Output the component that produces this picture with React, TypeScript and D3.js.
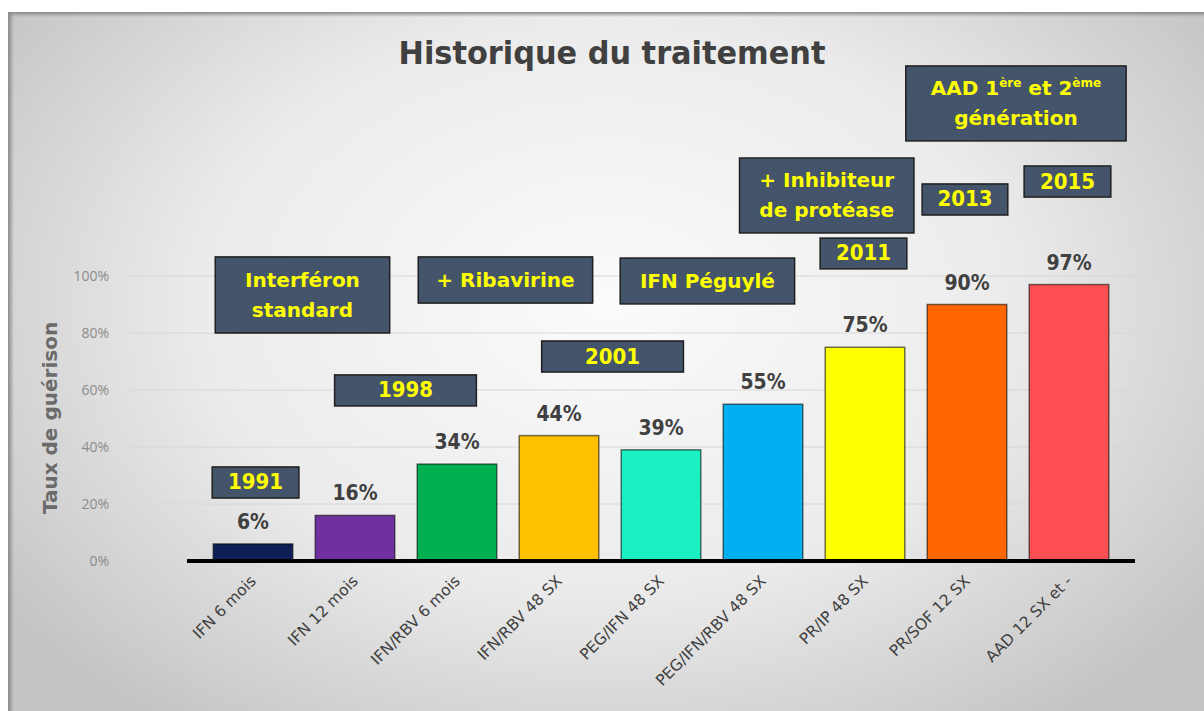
import { scaleBand, scaleLinear } from "d3";

const categories = [
  "IFN 6 mois",
  "IFN 12 mois",
  "IFN/RBV 6 mois",
  "IFN/RBV 48 SX",
  "PEG/IFN 48 SX",
  "PEG/IFN/RBV 48 SX",
  "PR/IP 48 SX",
  "PR/SOF 12 SX",
  "AAD 12 SX et -",
];
const cureRates = [6, 16, 34, 44, 39, 55, 75, 90, 97];
const barColors = [
  "#0d1f56",
  "#7030a0",
  "#00b050",
  "#ffc000",
  "#1bf0c2",
  "#00b0f0",
  "#ffff00",
  "#ff6600",
  "#ff4f55",
];
const yTicks = [0, 20, 40, 60, 80, 100];

// annotation boxes: x in category-index units, y in percent units
interface Note {
  lines: string[];
  x0: number;
  x1: number;
  top: number;
  bottom: number;
}
const notes: Note[] = [
  { lines: ["Interféron", "standard"], x0: -0.37, x1: 1.34, top: 106.7, bottom: 80 },
  { lines: ["+ Ribavirine"], x0: 1.62, x1: 3.33, top: 106.7, bottom: 90.5 },
  { lines: ["IFN Péguylé"], x0: 3.6, x1: 5.31, top: 106.3, bottom: 90.2 },
  { lines: ["1991"], x0: -0.4, x1: 0.45, top: 33, bottom: 22.1 },
  { lines: ["1998"], x0: 0.8, x1: 2.19, top: 65.3, bottom: 54.4 },
  { lines: ["2001"], x0: 2.83, x1: 4.22, top: 77.2, bottom: 66.3 },
  { lines: ["+ Inhibiteur", "de protéase"], x0: 4.77, x1: 6.48, top: 141.4, bottom: 115.1 },
  { lines: ["2011"], x0: 5.56, x1: 6.41, top: 113.3, bottom: 102.5 },
  { lines: ["2013"], x0: 6.56, x1: 7.4, top: 132.3, bottom: 121.4 },
  { lines: ["2015"], x0: 7.56, x1: 8.41, top: 138.6, bottom: 127.7 },
];

const W = 1204;
const H = 711;

export default function App() {
  const x = scaleBand<string>()
    .domain(categories)
    .range([202, 1120])
    .paddingInner(0.22)
    .paddingOuter(0.11);
  const y = scaleLinear().domain([0, 100]).range([561, 276]);
  const xi = scaleLinear().domain([0, 8]).range([253, 1069]);

  const boxFont = "'DejaVu Sans', sans-serif";
  const condFont = "'DejaVu Sans Condensed', 'DejaVu Sans', sans-serif";

  return (
    <svg
      width={W}
      height={H}
      style={{ position: "absolute", left: 0, top: 0, display: "block" }}
    >
      <defs>
        <radialGradient id="bg" cx="0.5" cy="0.42" r="0.62" gradientTransform="translate(0.5 0.42) scale(1 1.2) translate(-0.5 -0.42)">
          <stop offset="0" stopColor="#fbfbfb" />
          <stop offset="0.55" stopColor="#ebebeb" />
          <stop offset="1" stopColor="#c4c4c4" />
        </radialGradient>
        <linearGradient id="edgeL" x1="0" x2="1">
          <stop offset="0" stopColor="#8a8a8a" />
          <stop offset="1" stopColor="#8a8a8a" stopOpacity="0" />
        </linearGradient>
        <linearGradient id="edgeT" x1="0" x2="0" y1="0" y2="1">
          <stop offset="0" stopColor="#8a8a8a" />
          <stop offset="1" stopColor="#8a8a8a" stopOpacity="0" />
        </linearGradient>
      </defs>
      <rect width={W} height={H} fill="#ffffff" />
      <rect x={8} y={12} width={W - 8} height={H - 12} fill="url(#bg)" />
      <rect x={8} y={12} width={6} height={H - 12} fill="url(#edgeL)" />
      <rect x={8} y={12} width={W - 8} height={5} fill="url(#edgeT)" />

      <text
        x={612}
        y={64}
        textAnchor="middle"
        fontFamily={condFont}
        fontWeight="bold"
        fontSize={32}
        fill="#404040"
        textLength={427}
        lengthAdjust="spacingAndGlyphs"
      >
        Historique du traitement
      </text>

      {yTicks.map((t) => (
        <g key={`tick-${t}`}>
          <line x1={130} x2={1135} y1={y(t)} y2={y(t)} stroke="#d6d6d6" strokeWidth={1} />
          <text
            x={109}
            y={y(t) + 5}
            textAnchor="end"
            fontFamily="'Open Sans', sans-serif"
            fontSize={14}
            fill="#8c8c8c"
          >
            {t}%
          </text>
        </g>
      ))}

      <text
        transform="translate(57, 418) rotate(-90)"
        textAnchor="middle"
        fontFamily={boxFont}
        fontWeight="bold"
        fontSize={20}
        fill="#6b6b6b"
      >
        Taux de guérison
      </text>

      {categories.map((c, i) => (
        <g key={`bar-${c}`}>
          <rect
            x={x(c)}
            y={y(cureRates[i])}
            width={x.bandwidth()}
            height={y(0) - y(cureRates[i])}
            fill={barColors[i]}
            stroke="rgba(0,0,0,0.55)"
            strokeWidth={1.5}
          />
          <text
            x={(x(c) ?? 0) + x.bandwidth() / 2}
            y={y(cureRates[i]) - 15}
            textAnchor="middle"
            fontFamily={condFont}
            fontWeight="bold"
            fontSize={21}
            fill="#404040"
          >
            {cureRates[i]}%
          </text>
          <text
            transform={`translate(${(x(c) ?? 0) + x.bandwidth() / 2 + 4}, 582) rotate(-45)`}
            textAnchor="end"
            fontFamily={boxFont}
            fontSize={15.5}
            fill="#404040"
          >
            {c}
          </text>
        </g>
      ))}

      <line x1={187} x2={1135} y1={y(0)} y2={y(0)} stroke="#000" strokeWidth={4} />

      {notes.map((n) => {
        const bx0 = xi(n.x0);
        const bx1 = xi(n.x1);
        const by0 = y(n.top);
        const by1 = y(n.bottom);
        const cx = (bx0 + bx1) / 2;
        const cy = (by0 + by1) / 2;
        const lh = 30;
        const isYear = /^\d+$/.test(n.lines[0]);
        return (
          <g key={`note-${n.lines.join("-")}`}>
            <rect
              x={bx0}
              y={by0}
              width={bx1 - bx0}
              height={by1 - by0}
              fill="#44546a"
              stroke="#1f1f1f"
              strokeWidth={1.5}
            />
            {n.lines.map((l, k) => (
              <text
                key={l}
                x={cx}
                y={cy + (k - (n.lines.length - 1) / 2) * lh + 7}
                textAnchor="middle"
                fontFamily={isYear ? condFont : boxFont}
                fontWeight="bold"
                fontSize={isYear ? 22 : 20}
                fill="#ffff00"
              >
                {l}
              </text>
            ))}
          </g>
        );
      })}

      {/* AAD box with superscripts */}
      <g>
        <rect
          x={xi(6.4)}
          y={y(173.7)}
          width={xi(8.56) - xi(6.4)}
          height={y(147.4) - y(173.7)}
          fill="#44546a"
          stroke="#1f1f1f"
          strokeWidth={1.5}
        />
        <text
          x={(xi(6.4) + xi(8.56)) / 2}
          y={(y(173.7) + y(147.4)) / 2 - 8}
          textAnchor="middle"
          fontFamily={boxFont}
          fontWeight="bold"
          fontSize={20}
          fill="#ffff00"
        >
          AAD 1<tspan fontSize={12} dy={-8}>ère</tspan>
          <tspan dy={8}> et 2</tspan>
          <tspan fontSize={12} dy={-8}>ème</tspan>
        </text>
        <text
          x={(xi(6.4) + xi(8.56)) / 2}
          y={(y(173.7) + y(147.4)) / 2 + 22}
          textAnchor="middle"
          fontFamily={boxFont}
          fontWeight="bold"
          fontSize={20}
          fill="#ffff00"
        >
          génération
        </text>
      </g>
    </svg>
  );
}
